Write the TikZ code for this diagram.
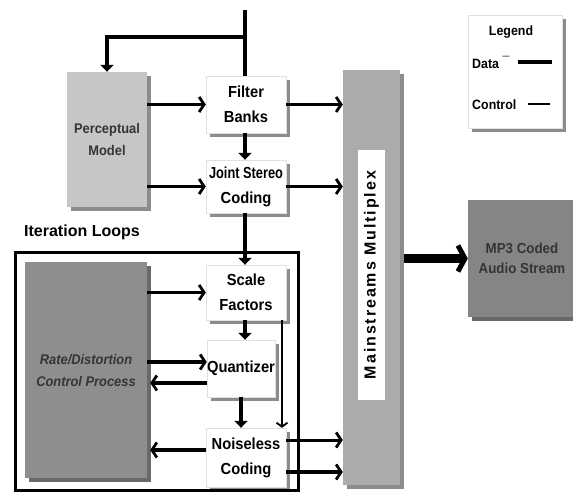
\documentclass[tikz,border=0pt]{standalone}
\usepackage{fontspec}
\setmainfont{Liberation Sans}
\newfontfamily\boxfont[FakeStretch=0.92]{Liberation Sans}
\newfontfamily\condfont[FakeStretch=0.8]{Liberation Sans}
\usetikzlibrary{arrows.meta}
\definecolor{percgray}{HTML}{C6C6C6}
\definecolor{rdgray}{HTML}{8E8E8E}
\definecolor{muxgray}{HTML}{ABABAB}
\definecolor{mpgray}{HTML}{858585}
\definecolor{shgray}{HTML}{8C8C8C}
\definecolor{shdark}{HTML}{6A6A6A}
\definecolor{txtgray}{HTML}{353535}
\begin{document}
\begin{tikzpicture}[x=1pt,y=-1pt,
  box/.style={draw=black!12, fill=white, inner sep=0pt, align=center,
    font=\boxfont\fontsize{16}{25}\selectfont\bfseries},
  graybox/.style={draw=none, inner sep=0pt, align=center},
  shadowbox/.style={draw=none, fill=#1, inner sep=0pt},
  data/.style={line width=3.5pt, -{Straight Barb[length=5pt,width=15pt,line width=2.8pt]}},
  dataplain/.style={line width=3.5pt},
  datadown/.style={line width=3.5pt, -{Triangle[length=7pt,width=13pt]}},
  ctrl/.style={line width=1.6pt, -{Straight Barb[length=4pt,width=11pt,line width=1.8pt]}},
  bigarrow/.style={line width=9pt, -{Straight Barb[length=7pt,width=26pt,line width=5pt]}},
  legtext/.style={font=\boxfont\fontsize{13.5}{15}\selectfont\bfseries, inner sep=0pt}
]
\useasboundingbox (0,0) rectangle (573,494);
\fill[white] (0,0) rectangle (573,494);

% shadows drawn first, offset 4 right and 4 down
\node[shadowbox=shgray, minimum width=80pt, minimum height=135pt] (percepsh) at (111,143.5) {};
\node[shadowbox=shgray, minimum width=80pt, minimum height=57pt] (filtsh) at (250,108.5) {};
\node[shadowbox=shgray, minimum width=80pt, minimum height=53pt] (jointsh) at (250,190.5) {};
\node[shadowbox=shdark, minimum width=122pt, minimum height=216pt] (rdsh) at (90,374) {};
\node[shadowbox=shgray, minimum width=80pt, minimum height=55pt] (scalesh) at (250,296.5) {};
\node[shadowbox=shgray, minimum width=68pt, minimum height=57pt] (quantsh) at (245,372.5) {};
\node[shadowbox=shgray, minimum width=80pt, minimum height=59pt] (noisesh) at (250,461.5) {};
\node[shadowbox=shgray, minimum width=57pt, minimum height=415pt] (muxsh) at (375.5,281.5) {};
\node[shadowbox=shdark, minimum width=108pt, minimum height=117pt] (mp3sh) at (526,262.5) {};
\node[shadowbox=shgray, minimum width=94pt, minimum height=113pt] (legendsh) at (519,75.5) {};

% iteration loops frame
\node[draw, line width=3pt, minimum width=283pt, minimum height=237pt, inner sep=0pt] (iter) at (156.5,371.5) {};
\node[font=\fontsize{16}{18}\selectfont\bfseries, anchor=west, inner sep=0pt] (iterlbl) at (24,232) {Iteration Loops};

% boxes
\node[graybox, fill=percgray, minimum width=80pt, minimum height=135pt,
  font=\boxfont\fontsize{14}{22}\selectfont\bfseries\color{txtgray}] (percep) at (107,139.5) {Perceptual\\Model};
\node[box, minimum width=80pt, minimum height=57pt] (filt) at (246,104.5) {Filter\\Banks};
\node[box, minimum width=80pt, minimum height=53pt] (joint) at (246,186.5) {{\condfont Joint Stereo}\\Coding};
\node[graybox, fill=rdgray, minimum width=122pt, minimum height=216pt,
  font=\boxfont\fontsize{14}{22}\selectfont\bfseries\itshape\color{txtgray}] (rd) at (86,370) {Rate/Distortion\\Control Process};
\node[box, minimum width=80pt, minimum height=55pt] (scale) at (246,292.5) {Scale\\Factors};
\node[box, minimum width=68pt, minimum height=57pt] (quant) at (241,368.5) {Quantizer};
\node[box, minimum width=80pt, minimum height=59pt] (noise) at (246,457.5) {Noiseless\\Coding};

\node[graybox, fill=muxgray, minimum width=57pt, minimum height=415pt] (mux) at (371.5,277.5) {};
\node[fill=white, inner sep=0pt, minimum width=250pt, minimum height=27pt, rotate=90,
  font=\fontsize{16}{18}\selectfont\bfseries\addfontfeature{LetterSpace=12}] (muxlbl) at (371.5,275) {Mainstreams Multiplex};

\node[graybox, fill=mpgray, minimum width=108pt, minimum height=117pt,
  font=\boxfont\fontsize{14.5}{20}\selectfont\bfseries\color{txtgray}] (mp3) at (522,258.5) {MP3 Coded\\Audio Stream};

% legend
\node[box, minimum width=94pt, minimum height=113pt] (legend) at (515,71.5) {};
\node[legtext] (legtitle) at (511,32) {Legend};
\node[legtext, anchor=west] (legdata) at (472,62) {Data \raisebox{2pt}{¯}};
\node[legtext, anchor=west] (legctrl) at (472,105) {Control};
\coordinate (ld1) at (518,62); \coordinate (ld2) at (552,62);
\coordinate (lc1) at (528,104); \coordinate (lc2) at (550,104);
\draw[line width=4pt] (ld1) -- (ld2);
\draw[line width=2.5pt] (lc1) -- (lc2);

% input
\coordinate (src) at (245,10);
\coordinate (split) at (245,37);
\draw[dataplain] (src) -- (filt.north -| src);
\draw[datadown] (split) -| (percep.north);

% perceptual model to filter / joint
\draw[data] (percep.east |- filt.west) -- (filt.west);
\draw[data] (percep.east |- joint.west) -- (joint.west);
\draw[datadown] (filt.south -| src) -- (joint.north -| src);

% to multiplex
\draw[data] (filt.east) -- (mux.west |- filt.east);
\draw[data] (joint.east) -- (mux.west |- joint.east);

% down into iteration loops
\draw[datadown] (joint.south -| src) -- (scale.north -| src);
\draw[datadown] (scale.south -| src) -- (quant.north -| src);
\draw[datadown] (quant.south) -- (noise.north -| quant.south);
\draw[ctrl] ([xshift=36pt]scale.south) -- ([xshift=36pt]noise.north);

% rate / distortion loop
\coordinate (qin) at ([yshift=6.5pt]quant.west);
\coordinate (qout) at ([yshift=-14.5pt]quant.west);
\coordinate (nout) at ([yshift=7.5pt]noise.west);
\draw[data] (rd.east |- scale.west) -- (scale.west);
\draw[data] (rd.east |- qin) -- (qin);
\draw[data] (qout) -- ([xshift=3pt]rd.east |- qout);
\draw[data] (nout) -- ([xshift=3pt]rd.east |- nout);

% noiseless to multiplex
\coordinate (n1) at ([yshift=17.5pt]noise.east);
\coordinate (n2) at ([yshift=-14.5pt]noise.east);
\draw[data, line width=3pt] (n1) -- (mux.west |- n1);
\draw[data] (n2) -- (mux.west |- n2);

% multiplex to mp3
\draw[bigarrow] ([xshift=4pt]mux.east |- mp3.west) -- (mp3.west);
\end{tikzpicture}
\end{document}
